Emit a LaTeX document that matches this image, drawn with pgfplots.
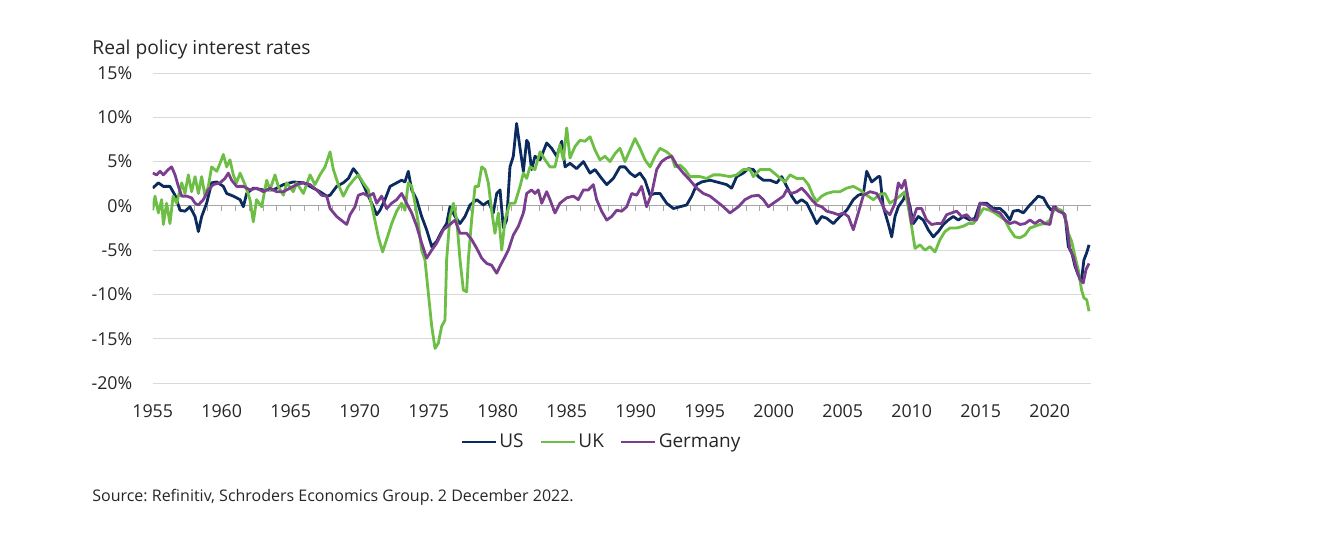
\documentclass[border=0pt]{standalone}
\usepackage{pgfplots}
\pgfplotsset{compat=1.18}
\usepackage{fontspec}
\setmainfont{Open Sans}
\frenchspacing

\definecolor{usnavy}{HTML}{0B2A5E}
\definecolor{ukgreen}{HTML}{6CBE45}
\definecolor{depurple}{HTML}{7A3E8E}
\definecolor{gridgray}{HTML}{D9D9D9}
\definecolor{zerogray}{HTML}{A6A6A6}
\definecolor{txt}{HTML}{262626}

\begin{document}
\begin{tikzpicture}
\useasboundingbox (0,0) rectangle (663pt,271.5pt);
\begin{axis}[
  at={(76.35pt,80pt)}, anchor=south west,
  scale only axis, width=469.2pt, height=155pt,
  xmin=1955, xmax=2023, ymin=-20, ymax=15,
  axis line style={draw=none},
  xtick={1955,1960,...,2020},
  ytick={-20,-15,...,15},
  major tick length=0pt,
  ymajorgrids,
  grid style={gridgray, line width=0.5pt},
  /pgf/number format/assume math mode=true,
  /pgf/number format/1000 sep={},
  xticklabel style={anchor=north, inner sep=0pt, yshift=-10.5pt,
    font=\fontsize{8.9}{10}\selectfont, text=txt},
  yticklabel style={anchor=east, inner sep=0pt, xshift=-10pt,
    font=\fontsize{8.9}{10}\selectfont, text=txt},
  yticklabel={\pgfmathprintnumber{\tick}\%},
  legend image code/.code={\draw[#1, line width=1.4pt] (0pt,0pt) -- (17pt,0pt);},
  legend style={at={(0.4783,-0.1903)}, anchor=center, draw=none, fill=none,
    font=\fontsize{9.5}{11}\selectfont, text=txt, inner sep=0pt,
    legend columns=-1, nodes={inner xsep=1pt, inner ysep=0pt},
    /tikz/every even column/.append style={column sep=7pt}},
]

\draw[zerogray, line width=0.6pt] (axis cs:1955,0) -- (axis cs:2023,0);
\pgfplotsinvokeforeach{1956,...,2022}{
  \draw[zerogray, line width=0.5pt] (axis cs:#1,0) -- ++(0pt,-2.5pt);
}

% US
\addplot[usnavy, line width=1.4pt, line join=round] coordinates {
(1955.0,2.0) (1955.41,2.6) (1955.77,2.2) (1956.25,2.2) (1956.62,1.2) (1956.98,-0.5)
(1957.34,-0.6) (1957.70,-0.1) (1958.07,-1.2) (1958.31,-2.9) (1958.55,-1.2) (1958.91,0.3)
(1959.27,2.6) (1959.64,2.7) (1960.12,2.2) (1960.36,1.4) (1960.84,1.1) (1961.33,0.7)
(1961.57,-0.1) (1961.81,1.4) (1962.29,2.0) (1963.02,1.8) (1963.74,1.8) (1964.47,2.4)
(1965.19,2.7) (1965.92,2.6) (1966.64,2.0) (1967.12,1.6) (1967.61,1.1) (1967.85,1.2)
(1968.33,2.2) (1968.81,2.6) (1969.18,3.1) (1969.54,4.2) (1969.90,3.5) (1970.26,2.4)
(1970.63,1.1) (1970.99,-0.1) (1971.23,-1.0) (1971.47,-0.5) (1971.83,0.7) (1972.20,2.2)
(1972.68,2.6) (1973.04,2.9) (1973.28,2.7) (1973.52,3.9) (1973.77,1.8) (1974.13,0.7)
(1974.49,-1.2) (1974.85,-2.7) (1975.22,-4.6) (1975.58,-4.0) (1975.94,-2.9) (1976.30,-2.0)
(1976.54,-0.1) (1976.91,-1.2) (1977.27,-2.0) (1977.63,-1.2) (1977.99,0.1) (1978.48,0.7)
(1978.96,0.1) (1979.32,0.5) (1979.68,-0.8) (1979.93,1.4) (1980.17,1.8) (1980.41,-2.5)
(1980.65,-1.6) (1980.89,4.4) (1981.13,5.6) (1981.37,9.3) (1981.62,6.5) (1981.86,3.9)
(1982.10,7.4) (1982.22,7.1) (1982.46,4.1) (1982.70,5.6) (1983.07,5.2) (1983.55,7.1)
(1983.91,6.5) (1984.27,5.6) (1984.64,7.3) (1984.88,4.4) (1985.24,4.8) (1985.72,4.2)
(1986.21,5.0) (1986.69,3.7) (1987.05,4.1) (1987.53,3.1) (1987.90,2.4) (1988.38,3.1)
(1988.86,4.4) (1989.22,4.4) (1989.59,3.7) (1989.95,3.3) (1990.31,3.7) (1990.67,2.9)
(1991.04,1.2) (1991.40,1.4) (1991.76,1.4) (1992.24,0.3) (1992.73,-0.3) (1993.21,-0.1)
(1993.69,0.1) (1994.06,1.1) (1994.42,2.4) (1994.78,2.7) (1995.38,2.9) (1996.11,2.6)
(1996.59,2.4) (1996.95,2.0) (1997.32,3.3) (1997.80,3.7) (1998.16,4.2) (1998.52,4.1)
(1998.89,3.3) (1999.25,2.9) (1999.73,2.9) (2000.22,2.6) (2000.58,3.3) (2000.94,2.2)
(2001.30,1.1) (2001.66,0.3) (2002.03,0.7) (2002.39,0.3) (2002.75,-0.8) (2003.11,-2.0)
(2003.48,-1.2) (2003.84,-1.4) (2004.32,-2.0) (2004.80,-1.2) (2005.29,-0.5) (2005.77,0.7)
(2006.13,1.2) (2006.50,1.4) (2006.74,3.9) (2007.10,2.7) (2007.58,3.3) (2007.70,3.3)
(2007.94,-0.1) (2008.30,-2.0) (2008.55,-3.5) (2008.79,-1.2) (2009.03,-0.1) (2009.39,0.7)
(2009.63,1.6) (2009.87,-0.1) (2010.12,-2.0) (2010.48,-1.2) (2010.84,-1.6) (2011.20,-2.7)
(2011.56,-3.5) (2011.93,-2.9) (2012.29,-2.1) (2012.65,-1.6) (2013.01,-1.2) (2013.38,-1.6)
(2013.74,-1.2) (2014.22,-1.6) (2014.58,-1.4) (2014.95,0.3) (2015.43,0.3) (2015.91,-0.3)
(2016.40,-0.3) (2016.76,-0.8) (2017.12,-1.6) (2017.36,-0.6) (2017.72,-0.5) (2018.09,-0.8)
(2018.45,-0.1) (2018.81,0.5) (2019.17,1.1) (2019.54,0.9) (2019.90,-0.1) (2020.14,-0.5)
(2020.38,-0.1) (2020.74,-0.6) (2021.11,-1.0) (2021.35,-4.6) (2021.59,-5.2) (2021.83,-6.8)
(2022.07,-7.8) (2022.31,-8.3) (2022.48,-6.1) (2022.68,-5.3) (2022.85,-4.4)
};
\addlegendentry{US}

% UK
\addplot[ukgreen, line width=1.4pt, line join=round] coordinates {
(1955.0,-0.5) (1955.17,1.1) (1955.41,-0.8) (1955.65,0.7) (1955.77,-2.1) (1956.01,0.3)
(1956.25,-2.0) (1956.48,1.1) (1956.74,0.3) (1957.10,2.6) (1957.34,1.4) (1957.58,3.5)
(1957.82,1.6) (1958.07,3.3) (1958.31,1.4) (1958.55,3.3) (1958.79,1.1) (1959.03,2.2)
(1959.27,4.4) (1959.64,3.9) (1959.88,4.8) (1960.12,5.8) (1960.36,4.4) (1960.60,5.2)
(1960.84,3.5) (1961.08,2.6) (1961.33,3.7) (1961.69,2.4) (1962.05,0.7) (1962.29,-1.8)
(1962.53,0.7) (1962.90,-0.1) (1963.26,2.9) (1963.50,1.8) (1963.86,3.5) (1964.10,2.2)
(1964.47,1.2) (1964.71,2.6) (1965.19,1.6) (1965.43,2.6) (1965.92,1.4) (1966.40,3.5)
(1966.76,2.4) (1967.12,3.5) (1967.49,4.4) (1967.85,6.1) (1968.09,4.1) (1968.45,2.4)
(1968.81,1.1) (1969.18,2.2) (1969.54,2.9) (1969.90,3.5) (1970.26,2.6) (1970.63,1.8)
(1970.99,-0.8) (1971.35,-3.5) (1971.66,-5.2) (1971.95,-3.8) (1972.32,-2.0) (1972.68,-0.6)
(1973.04,0.3) (1973.28,-0.5) (1973.52,2.6) (1973.77,2.2) (1974.01,0.3) (1974.25,-2.0)
(1974.49,-5.0) (1974.73,-6.1) (1974.97,-9.8) (1975.22,-13.6) (1975.46,-16.1) (1975.70,-15.5)
(1975.94,-13.6) (1976.18,-12.9) (1976.30,-6.1) (1976.54,-1.2) (1976.79,0.3) (1977.03,-1.6)
(1977.27,-6.1) (1977.51,-9.5) (1977.75,-9.7) (1977.87,-6.1) (1978.11,-1.6) (1978.36,2.2)
(1978.60,2.2) (1978.84,4.4) (1979.08,4.1) (1979.32,2.6) (1979.56,-0.5) (1979.80,-3.1)
(1980.05,-0.8) (1980.29,-5.0) (1980.53,-1.6) (1980.89,0.3) (1981.25,0.3) (1981.62,2.2)
(1981.86,3.7) (1982.10,3.1) (1982.34,4.4) (1982.70,4.1) (1983.07,6.1) (1983.43,5.2)
(1983.79,4.4) (1984.15,4.4) (1984.51,6.9) (1984.76,5.2) (1985.00,8.8) (1985.24,5.4)
(1985.60,6.7) (1985.96,7.4) (1986.33,7.3) (1986.69,7.8) (1987.05,6.3) (1987.41,5.2)
(1987.78,5.6) (1988.14,5.0) (1988.50,5.9) (1988.86,6.5) (1989.22,5.0) (1989.59,6.3)
(1989.95,7.6) (1990.31,6.5) (1990.67,5.2) (1991.04,4.4) (1991.40,5.6) (1991.76,6.5)
(1992.24,6.1) (1992.61,5.6) (1992.85,4.4) (1993.21,4.6) (1993.57,4.1) (1993.93,3.3)
(1994.30,3.3) (1994.66,3.3) (1995.14,3.1) (1995.63,3.5) (1996.11,3.5) (1996.83,3.3)
(1997.32,3.5) (1997.80,4.1) (1998.28,4.1) (1998.52,3.3) (1999.01,4.1) (1999.73,4.1)
(2000.34,3.3) (2000.82,2.7) (2001.18,3.5) (2001.66,3.1) (2002.15,3.1) (2002.51,2.4)
(2002.87,1.1) (2003.11,0.5) (2003.48,1.1) (2003.84,1.4) (2004.32,1.6) (2004.80,1.6)
(2005.29,2.0) (2005.77,2.2) (2006.25,1.8) (2006.74,1.2) (2007.22,0.7) (2007.70,1.3)
(2008.06,1.4) (2008.42,0.3) (2008.79,0.7) (2009.15,1.1) (2009.51,1.6) (2009.75,-0.1)
(2009.99,-2.3) (2010.24,-4.8) (2010.60,-4.4) (2010.96,-5.0) (2011.32,-4.6) (2011.69,-5.2)
(2012.05,-3.8) (2012.41,-2.9) (2012.77,-2.5) (2013.26,-2.5) (2013.74,-2.3) (2014.10,-2.0)
(2014.46,-2.0) (2014.83,-1.2) (2015.19,-0.3) (2015.67,-0.5) (2016.03,-0.8) (2016.40,-1.2)
(2016.76,-1.6) (2017.12,-2.7) (2017.48,-3.5) (2017.85,-3.6) (2018.21,-3.3) (2018.57,-2.5)
(2018.93,-2.3) (2019.29,-2.1) (2019.66,-2.0) (2020.02,-1.6) (2020.26,-0.6) (2020.50,-0.3)
(2020.86,-0.5) (2021.11,-1.2) (2021.35,-3.1) (2021.59,-4.0) (2021.83,-5.7) (2022.07,-7.2)
(2022.31,-9.5) (2022.48,-10.4) (2022.68,-10.6) (2022.85,-11.9)
};
\addlegendentry{UK}

% Germany
\addplot[depurple, line width=1.4pt, line join=round] coordinates {
(1955.0,3.7) (1955.29,3.5) (1955.53,3.9) (1955.77,3.5) (1956.13,4.1) (1956.37,4.4)
(1956.62,3.5) (1956.86,2.2) (1957.10,1.1) (1957.46,1.1) (1957.82,0.9) (1958.07,0.3)
(1958.31,0.1) (1958.67,0.7) (1959.03,1.8) (1959.39,2.4) (1959.88,2.6) (1960.24,3.1)
(1960.48,3.7) (1960.72,2.9) (1961.08,2.2) (1961.57,2.2) (1962.05,1.8) (1962.53,2.0)
(1963.02,1.6) (1963.50,2.0) (1963.98,1.6) (1964.47,1.6) (1964.95,2.0) (1965.43,2.4)
(1965.92,2.6) (1966.40,2.4) (1966.88,1.8) (1967.24,1.2) (1967.61,1.1) (1967.85,-0.3)
(1968.33,-1.2) (1968.81,-1.8) (1969.06,-2.1) (1969.30,-1.0) (1969.66,-0.1) (1969.90,1.2)
(1970.26,1.4) (1970.63,1.1) (1970.99,1.4) (1971.23,0.3) (1971.59,1.1) (1971.95,-0.3)
(1972.32,0.3) (1972.68,0.7) (1973.04,1.4) (1973.40,0.3) (1973.77,-0.8) (1974.13,-2.3)
(1974.49,-4.2) (1974.85,-5.9) (1975.22,-5.0) (1975.58,-4.2) (1976.06,-2.7) (1976.54,-2.1)
(1976.91,-1.6) (1977.27,-3.1) (1977.75,-3.1) (1978.11,-3.8) (1978.48,-4.8) (1978.84,-5.9)
(1979.20,-6.5) (1979.56,-6.7) (1979.93,-7.6) (1980.17,-6.8) (1980.41,-6.1) (1980.77,-5.0)
(1981.13,-3.3) (1981.50,-2.3) (1981.86,-0.8) (1982.10,1.4) (1982.46,1.8) (1982.70,1.4)
(1982.94,1.8) (1983.19,0.3) (1983.55,1.6) (1983.79,0.7) (1984.15,-0.8) (1984.51,0.3)
(1985.00,0.9) (1985.48,1.1) (1985.84,0.7) (1986.21,1.8) (1986.57,1.8) (1986.93,2.4)
(1987.17,0.7) (1987.53,-0.6) (1987.90,-1.6) (1988.26,-1.2) (1988.62,-0.5) (1988.98,-0.6)
(1989.35,-0.1) (1989.71,1.4) (1990.07,1.2) (1990.43,2.2) (1990.79,-0.1) (1991.16,1.4)
(1991.52,4.1) (1991.88,5.0) (1992.24,5.4) (1992.61,5.6) (1992.97,4.6) (1993.45,3.7)
(1993.93,2.9) (1994.42,2.0) (1994.90,1.4) (1995.38,1.1) (1995.87,0.5) (1996.35,-0.1)
(1996.83,-0.8) (1997.44,-0.1) (1997.92,0.7) (1998.40,1.1) (1998.89,1.2) (1999.25,0.7)
(1999.61,-0.1) (1999.97,0.3) (2000.34,0.7) (2000.70,1.1) (2000.94,1.8) (2001.30,1.4)
(2001.66,1.6) (2002.03,2.0) (2002.39,1.4) (2002.75,0.7) (2003.11,0.1) (2003.48,-0.1)
(2003.84,-0.6) (2004.32,-0.8) (2004.68,-1.0) (2005.05,-0.8) (2005.41,-1.2) (2005.77,-2.7)
(2006.13,-0.8) (2006.50,1.2) (2006.98,1.6) (2007.46,1.4) (2007.70,0.7) (2008.06,-0.5)
(2008.42,-1.0) (2008.79,0.3) (2009.03,2.6) (2009.27,2.0) (2009.51,2.9) (2009.75,0.7)
(2009.99,-2.0) (2010.36,-0.3) (2010.72,-0.3) (2011.08,-1.6) (2011.44,-2.1) (2011.81,-2.0)
(2012.17,-2.0) (2012.53,-1.0) (2012.89,-0.8) (2013.26,-0.6) (2013.62,-1.2) (2013.98,-1.0)
(2014.34,-1.6) (2014.70,-1.6) (2014.95,0.3) (2015.43,0.1) (2015.91,-0.5) (2016.40,-0.8)
(2016.76,-1.6) (2017.12,-2.0) (2017.48,-1.8) (2017.85,-2.1) (2018.21,-2.0) (2018.57,-1.6)
(2018.93,-2.0) (2019.29,-1.6) (2019.66,-2.0) (2020.02,-2.1) (2020.26,-0.1) (2020.62,-0.6)
(2020.99,-0.8) (2021.23,-2.0) (2021.47,-5.0) (2021.71,-5.7) (2021.95,-7.2) (2022.19,-8.3)
(2022.43,-8.7) (2022.63,-7.2) (2022.85,-6.5)
};
\addlegendentry{Germany}
\end{axis}

\node[anchor=base west, inner sep=0pt, text=txt, font=\fontsize{9.6}{11}\selectfont]
  at (46pt,244.5pt) {Real policy interest rates};
\node[anchor=base west, inner sep=0pt, text=txt, font=\fontsize{8}{10}\selectfont]
  at (46pt,21pt) {Source: Refinitiv, Schroders Economics Group. 2 December 2022.};
\end{tikzpicture}
\end{document}
